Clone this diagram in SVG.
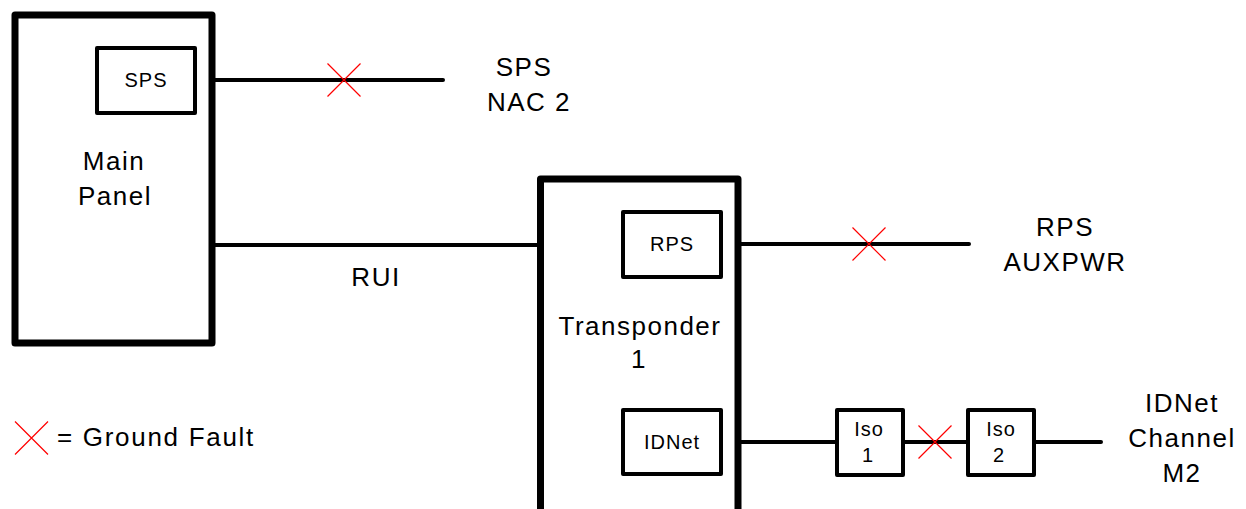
<svg xmlns="http://www.w3.org/2000/svg" width="1246" height="509" viewBox="0 0 1246 509">
<style>
.big{fill:#fff;stroke:#000;stroke-width:7;stroke-linejoin:round}
.box{fill:#fff;stroke:#000;stroke-width:4;stroke-linejoin:round}
.wire{stroke:#000;stroke-width:4;stroke-linecap:round;fill:none}
.gf{stroke:#ff0000;stroke-width:1.2;fill:none}
text{font-family:"Liberation Sans",Arial,sans-serif;fill:#000;text-anchor:middle}
.lg{font-size:26px;letter-spacing:1.5px}
.sm{font-size:20px;letter-spacing:1px}
</style>
<defs>
<path id="x" class="gf" d="M-16.5,-16.5L16.5,16.5M-16.5,16.5L16.5,-16.5"/>
</defs>
<g id="connectors">
<line class="wire" x1="212" y1="80" x2="443" y2="80"/>
<line class="wire" x1="212" y1="245" x2="540" y2="245"/>
<line class="wire" x1="738" y1="244" x2="969" y2="244"/>
<line class="wire" x1="738" y1="442" x2="837" y2="442"/>
<line class="wire" x1="903" y1="442" x2="968" y2="442"/>
<line class="wire" x1="1034" y1="442" x2="1101" y2="442"/>
<text class="lg" x="376" y="286">RUI</text>
</g>
<g id="main-panel">
<rect class="big" x="15" y="15" width="197" height="328"/>
<text class="lg" x="114" y="170">Main</text>
<text class="lg" x="115" y="205">Panel</text>
</g>
<g id="sps">
<rect class="box" x="97" y="48" width="98" height="65"/>
<text class="sm" x="146" y="87">SPS</text>
</g>
<g id="transponder">
<rect class="big" x="540.5" y="179" width="197.5" height="340"/>
<text class="lg" x="640" y="335">Transponder</text>
<text class="lg" x="639" y="368">1</text>
</g>
<g id="rps">
<rect class="box" x="623" y="212" width="98" height="65"/>
<text class="sm" x="672" y="251">RPS</text>
</g>
<g id="idnet">
<rect class="box" x="623" y="410" width="98" height="64"/>
<text class="sm" x="672" y="449">IDNet</text>
</g>
<g id="iso1">
<rect class="box" x="837" y="410" width="66" height="65"/>
<text class="sm" x="869" y="436">Iso</text>
<text class="sm" x="868" y="462">1</text>
</g>
<g id="iso2">
<rect class="box" x="968" y="410" width="66" height="65"/>
<text class="sm" x="1001" y="436">Iso</text>
<text class="sm" x="999" y="462">2</text>
</g>
<g id="sps-nac2">
<text class="lg" x="524" y="76">SPS</text>
<text class="lg" x="529" y="111">NAC 2</text>
</g>
<g id="rps-auxpwr">
<text class="lg" x="1065" y="236">RPS</text>
<text class="lg" x="1065" y="271">AUXPWR</text>
</g>
<g id="idnet-channel">
<text class="lg" x="1182" y="412">IDNet</text>
<text class="lg" x="1182" y="447">Channel</text>
<text class="lg" x="1182" y="482">M2</text>
</g>
<g id="faults">
<use href="#x" x="344" y="80"/>
<use href="#x" x="869" y="244"/>
<use href="#x" x="935" y="442"/>
</g>
<g id="legend">
<use href="#x" x="31.5" y="438"/>
<text class="lg" x="57" y="446" style="text-anchor:start;letter-spacing:1.7px">= Ground Fault</text>
</g>
</svg>
